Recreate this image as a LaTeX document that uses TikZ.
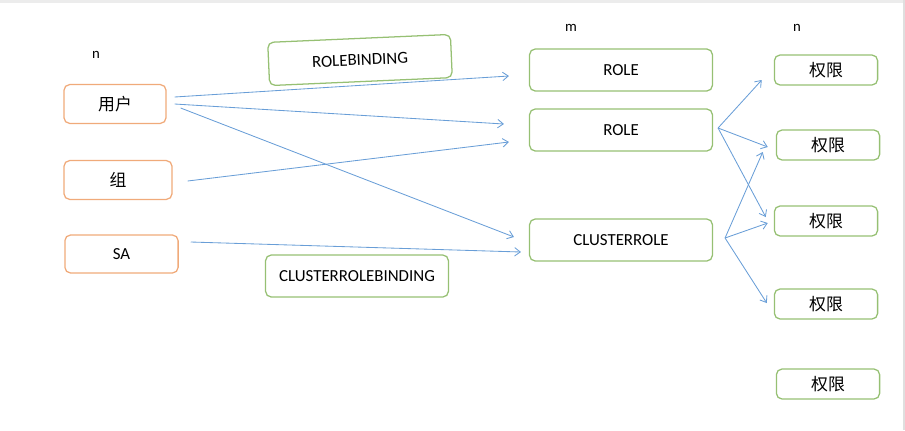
\documentclass[tikz,border=0pt]{standalone}
\usepackage{fontspec}
\setmainfont{Carlito}
\newfontfamily\cjk{Noto Sans CJK SC}
\usepackage{tikz}
\usetikzlibrary{arrows.meta, positioning, calc}
\usepackage{xcolor}
\definecolor{subjline}{RGB}{240,170,122}
\definecolor{roleline}{RGB}{150,192,115}
\definecolor{arrline}{RGB}{105,158,215}

\begin{document}
\begin{tikzpicture}[
    x=0.025cm, y=-0.025cm,
    subj/.style={rectangle, draw=subjline, line width=0.9pt, rounded corners=4pt,
                 minimum height=0.97cm, inner sep=0pt, align=center, font=\fontsize{12}{14}\selectfont},
    role/.style={rectangle, draw=roleline, line width=0.9pt, rounded corners=4pt,
                 minimum width=4.57cm, minimum height=1.05cm, inner sep=0pt, align=center, font=\fontsize{12}{14}\selectfont},
    perm/.style={rectangle, draw=roleline, line width=0.9pt, rounded corners=4pt,
                 minimum width=2.58cm, minimum height=0.75cm, inner sep=0pt, align=center, font=\fontsize{12}{14}\selectfont\cjk},
    tag/.style={font=\fontsize{10.5}{12}\selectfont, inner sep=0pt},
    arr/.style={-{Straight Barb[length=4pt, width=6pt]}, line width=0.6pt, draw=arrline}
]
\useasboundingbox (0,0) rectangle (905,430);
\fill[gray!15] (0,0) rectangle (905,3);
\fill[gray!25] (903,0) rectangle (905,430);

% column labels
\node[tag] (ncount) at (96,55) {n};
\node[tag] (mcount) at (571,28) {m};
\node[tag] (kcount) at (797,28) {n};

% subjects
\node[subj, minimum width=2.55cm] (user) at (115,104) {\cjk 用户};
\node[subj, minimum width=2.7cm] (group) at (118,180) {\cjk 组};
\node[subj, minimum width=2.83cm, minimum height=0.95cm] (sa) at (121.5,254) {SA};

% bindings
\node[role, minimum height=1.08cm, rotate=2.5] (rb) at (360,60) {ROLEBINDING};
\node[role] (crb) at (357,276) {CLUSTERROLEBINDING};

% roles
\node[role] (role1) at (621,70) {ROLE};
\node[role] (role2) at (621,130) {ROLE};
\node[role] (crole) at (621,240) {CLUSTERROLE};

% permissions
\node[perm] (p1) at (826,70) {权限};
\node[perm] (p2) at (828,145) {权限};
\node[perm] (p3) at (826,221) {权限};
\node[perm] (p4) at (826,304) {权限};
\node[perm] (p5) at (828,384) {权限};

\draw[arr] ($(user.east)+(8,-7)$) -- ($(role1.west)+(-20,6)$);
\draw[arr] ($(user.east)+(8,0)$) -- ($(role2.west)+(-25,-6)$);
\draw[arr] ($(group.east)+(15,1)$) -- ($(role2.west)+(-20,12)$);
\draw[arr] ($(user.east)+(14,4)$) -- ($(crole.west)+(-15,-3)$);
\draw[arr] ($(sa.east)+(12,-12)$) -- ($(crole.west)+(-8,12)$);

\draw[arr] ($(role2.east)+(5,-2)$) -- ($(p1.west)+(-12,10)$);
\draw[arr] ($(role2.east)+(5,-2)$) -- ($(p2.west)+(-8,2)$);
\draw[arr] ($(role2.east)+(5,-2)$) -- ($(p3.west)+(-8,-4)$);
\draw[arr] ($(crole.east)+(12,-2)$) -- ($(p2.west)+(-13,7)$);
\draw[arr] ($(crole.east)+(12,-2)$) -- ($(p3.west)+(-6,2)$);
\draw[arr] ($(crole.east)+(12,-2)$) -- ($(p4.west)+(-7,-1)$);
\end{tikzpicture}
\end{document}
